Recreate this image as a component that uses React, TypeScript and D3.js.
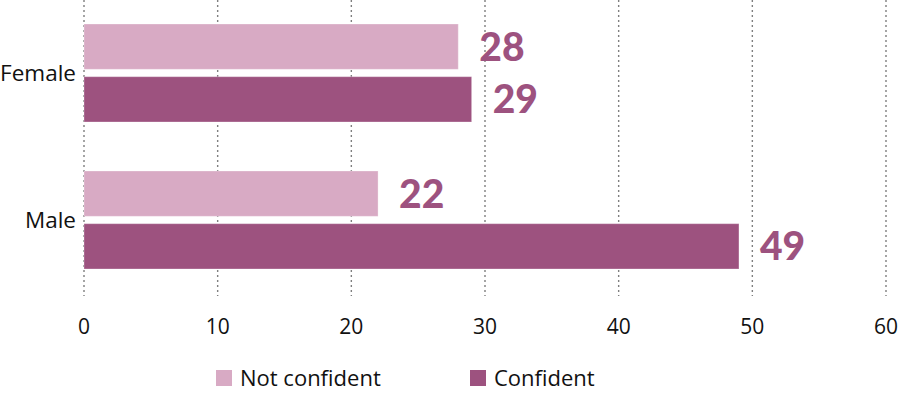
import React from 'react';
import * as d3 from 'd3';

const categories = ['Female', 'Male'];
const seriesNames = ['Not confident', 'Confident'];
const notConfident = [28, 22];
const confident = [29, 49];
const xTicks = [0, 10, 20, 30, 40, 50, 60];

const colors = ['#d8aac4', '#9d527f'];
const font = "'Open Sans', Lato, sans-serif";
const numFont = "Lato, 'Open Sans', sans-serif";

export default function App() {
  const width = 900;
  const height = 396;
  const x = d3.scaleLinear().domain([0, 60]).range([84, 886]);
  // bar positions inside each category group
  const sub = d3.scaleBand<string>().domain(seriesNames).range([24, 122]).paddingInner(0.14);
  const groupOffset = [0, 147];
  const values = [notConfident, confident];

  return (
    <svg width={width} height={height} style={{ position: 'absolute', left: 0, top: 0 }} fontFamily={font}>
      <rect width={width} height={height} fill="#fff" />
      {xTicks.map(t => (
        <g key={t}>
          <line x1={x(t)} x2={x(t)} y1={0} y2={296} stroke="#7f7f7f" strokeWidth={1.4} strokeDasharray="2,3" />
          <text x={x(t)} y={334} textAnchor="middle" fontSize={21} fill="#111">{t}</text>
        </g>
      ))}
      {categories.map((c, i) => (
        <g key={c} transform={`translate(0,${groupOffset[i]})`}>
          {seriesNames.map((s, j) => {
            const v = values[j][i];
            const yy = sub(s) ?? 0;
            return (
              <g key={s}>
                <rect x={x(0)} y={yy} width={x(v) - x(0)} height={sub.bandwidth()} fill={colors[j]} stroke="#fff" strokeOpacity={0.3} />
                <text x={x(v) + 21} y={yy + sub.bandwidth() / 2 + 14} fontFamily={numFont} fontSize={39} fontWeight={900} fill="#9d527f">{v}</text>
              </g>
            );
          })}
          <text x={76} y={((sub(seriesNames[0]) ?? 0) + (sub(seriesNames[1]) ?? 0) + sub.bandwidth()) / 2 + 8} textAnchor="end" fontSize={22.5} fill="#111">{c}</text>
        </g>
      ))}
      {seriesNames.map((s, j) => {
        const lx = j === 0 ? 216 : 470;
        return (
          <g key={s}>
            <rect x={lx} y={370} width={16} height={16} fill={colors[j]} />
            <text x={lx + 24} y={386} fontSize={22} fill="#111">{s}</text>
          </g>
        );
      })}
    </svg>
  );
}
